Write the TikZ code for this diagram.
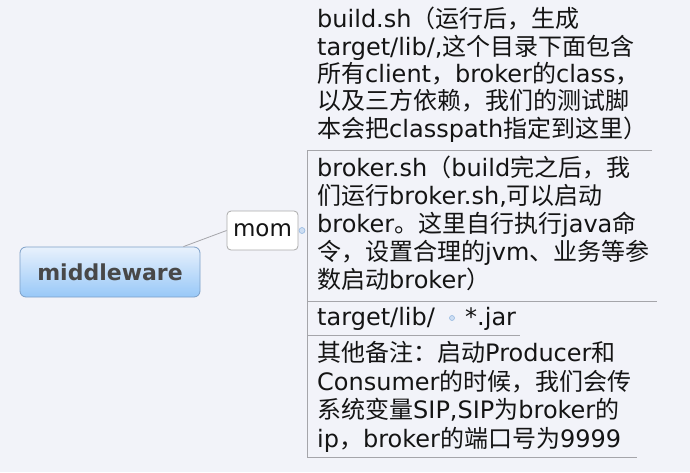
\documentclass[tikz,border=0pt]{standalone}
\usepackage{fontspec}
\setmainfont{DejaVu Sans}
\newfontfamily\cjkfont{Noto Sans CJK SC}
\newcommand\zh[1]{{\cjkfont #1}}
\usetikzlibrary{calc}
\definecolor{bg}{RGB}{242,243,249}
\definecolor{txt}{RGB}{20,20,20}
\definecolor{mwtop}{RGB}{232,241,252}
\definecolor{mwbot}{RGB}{152,200,248}
\definecolor{mwborder}{RGB}{125,160,200}
\definecolor{mwtext}{RGB}{72,72,72}
\definecolor{momborder}{RGB}{170,170,170}
\definecolor{linec}{RGB}{165,165,170}
\definecolor{dotfill}{RGB}{205,222,243}
\definecolor{dotdraw}{RGB}{150,185,225}
\begin{document}
\begin{tikzpicture}[x=1pt,y=-1pt,
  item/.style={anchor=base west, align=left, inner sep=0pt, font=\fontsize{24}{27.4}\selectfont, text=txt},
  brline/.style={draw=linec, line width=0.9pt},
  dot/.style={circle, draw=dotdraw, fill=dotfill, minimum size=6pt, inner sep=0pt, line width=0.6pt}
]
\fill[bg] (0,0) rectangle (690,472);
\useasboundingbox (0,0) rectangle (690,472);

\node[rounded corners=6pt, draw=mwborder, line width=0.8pt, top color=mwtop, bottom color=mwbot,
  minimum width=180pt, minimum height=50pt, inner sep=0pt,
  font=\fontsize{22}{26}\selectfont\bfseries, text=mwtext] (mw) at (110,272) {middleware};
\node[draw=momborder, fill=white, rounded corners=4pt, line width=0.8pt, minimum width=71pt, minimum height=39pt,
  inner sep=0pt, font=\fontsize{23}{27}\selectfont, text=txt] (mom) at (262.5,230.5) {mom};
\draw[brline, line width=0.8pt] ($(mw.north east)+(-17,0)$) -- (mom.west);

\node[dot] (c1) at (302,230.5) {};

% multi-line nodes: base anchor sits on the last line
\node[item, font=\fontsize{24}{27.3}\selectfont] (build) at (317,137) {build.sh\zh{（运行后，生成}\\
target/lib/,\zh{这个目录下面包含}\\
\zh{所有}client\zh{，}broker\zh{的}class\zh{，}\\
\zh{以及三方依赖，我们的测试脚}\\
\zh{本会把}classpath\zh{指定到这里）}};

\node[item, font=\fontsize{24}{27.9}\selectfont] (broker) at (317,288) {broker.sh\zh{（}build\zh{完之后，我}\\
\zh{们运行}broker.sh,\zh{可以启动}\\
broker\zh{。这里自行执行}java\zh{命}\\
\zh{令，设置合理的}jvm\zh{、业务等参}\\
\zh{数启动}broker\zh{）}};

\node[item] (tl) at (317,325) {target/lib/};
\node[dot, minimum size=5pt] (c2) at (452,318) {};
\node[item] (jar) at (465,325) {*.jar};

\node[item, font=\fontsize{24}{28.5}\selectfont] (other) at (317,447) {\zh{其他备注：启动}Producer\zh{和}\\
Consumer\zh{的时候，我们会传}\\
\zh{系统变量}SIP,SIP\zh{为}broker\zh{的}\\
ip\zh{，}broker\zh{的端口号为}9999};

\draw[brline] (652,150) -- (307,150) -- (307,457) -- (637,457);
\draw[brline] (307,301) -- (657,301);
\draw[brline] (307,335) -- (520,335);
\end{tikzpicture}
\end{document}
